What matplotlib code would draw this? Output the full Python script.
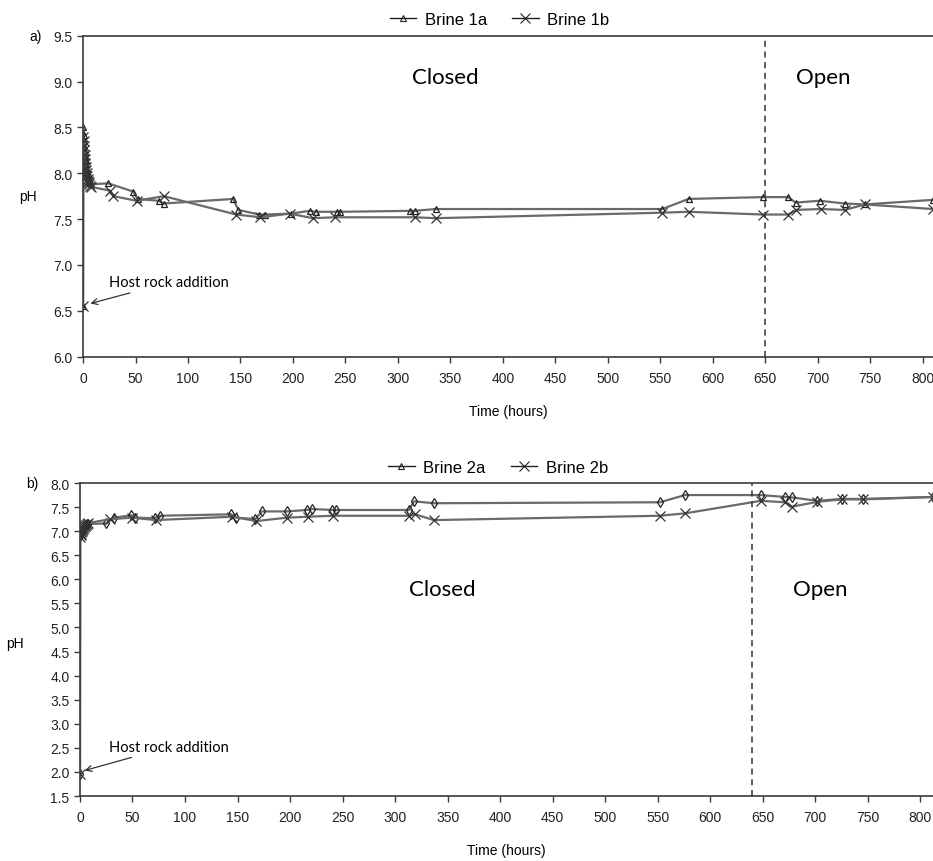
import matplotlib
matplotlib.use("Agg")
import matplotlib.pyplot as plt
from matplotlib.lines import Line2D

plt.rcParams['font.family'] = ['Liberation Sans', 'DejaVu Sans']

# ---- data, panel a ----
t_1a = [0, 0.2, 0.5, 0.8, 1.0, 1.3, 1.6, 2.0, 2.4, 2.8, 3.2, 3.6, 4.0, 4.5, 5.0, 5.5, 6.0, 7.0, 8.0,
        24, 48, 52, 72, 77, 143, 148, 168, 173, 198, 216, 222, 242, 245, 312, 316, 336,
        552, 577, 648, 672, 679, 702, 726, 745, 810]
ph_1a = [6.55, 8.50, 8.42, 8.35, 8.30, 8.26, 8.22, 8.18, 8.14, 8.10, 8.06, 8.03, 8.00, 7.97, 7.95, 7.93, 7.92, 7.90, 7.88,
         7.89, 7.80, 7.72, 7.70, 7.67, 7.72, 7.60, 7.55, 7.55, 7.56, 7.59, 7.58, 7.58, 7.58, 7.59, 7.59, 7.61,
         7.61, 7.72, 7.74, 7.74, 7.68, 7.70, 7.67, 7.66, 7.71]

t_1b = [0, 0.3, 0.6, 0.9, 1.2, 1.5, 1.8, 2.2, 2.6, 3.0, 3.4, 3.8, 4.3, 4.8, 5.3, 6.0, 7.0, 8.0,
        26, 29, 51, 77, 146, 169, 197, 219, 240, 316, 336,
        552, 577, 648, 672, 679, 703, 726, 745, 810]
ph_1b = [6.55, 8.40, 8.35, 8.30, 8.25, 8.20, 8.15, 8.11, 8.07, 8.03, 8.00, 7.97, 7.94, 7.92, 7.90, 7.88, 7.86, 7.85,
         7.81, 7.75, 7.70, 7.75, 7.55, 7.52, 7.56, 7.51, 7.52, 7.52, 7.51,
         7.57, 7.58, 7.55, 7.55, 7.60, 7.61, 7.60, 7.66, 7.61]

# ---- data, panel b ----
t_2a = [0, 0.2, 0.5, 0.8, 1.2, 1.6, 2.0, 2.5, 3.0, 3.5, 4.0, 5.0, 6.0, 7.0, 8.0,
        25, 32, 49, 52, 71, 76, 144, 149, 167, 173, 197, 216, 221, 240, 244, 313, 318, 337,
        552, 576, 648, 671, 678, 702, 725, 745, 812]
ph_2a = [1.95, 6.90, 6.92, 6.94, 6.96, 6.98, 7.00, 7.02, 7.04, 7.06, 7.08, 7.10, 7.12, 7.14, 7.15,
         7.16, 7.28, 7.33, 7.28, 7.27, 7.32, 7.35, 7.28, 7.25, 7.41, 7.41, 7.44, 7.46, 7.44, 7.44, 7.44, 7.62, 7.58,
         7.60, 7.75, 7.75, 7.71, 7.70, 7.63, 7.67, 7.67, 7.71]

t_2b = [0, 0.3, 0.6, 1.0, 1.4, 1.8, 2.2, 2.7, 3.2, 3.8, 4.5, 5.5, 6.5, 8.0,
        29, 50, 72, 145, 168, 197, 217, 241, 313, 319, 337,
        552, 576, 648, 671, 678, 702, 725, 745, 812]
ph_2b = [1.95, 6.88, 6.92, 6.95, 6.98, 7.00, 7.03, 7.05, 7.07, 7.09, 7.11, 7.13, 7.15, 7.17,
         7.25, 7.28, 7.23, 7.30, 7.21, 7.28, 7.30, 7.32, 7.32, 7.35, 7.23,
         7.32, 7.37, 7.63, 7.60, 7.51, 7.61, 7.66, 7.66, 7.71]

xticks = list(range(0, 801, 50))
yticks_a = [6.0, 6.5, 7.0, 7.5, 8.0, 8.5, 9.0, 9.5]
yticks_b = [1.5, 2.0, 2.5, 3.0, 3.5, 4.0, 4.5, 5.0, 5.5, 6.0, 6.5, 7.0, 7.5, 8.0]

line_col = '#6a6a6a'
note_font = ['Lato', 'DejaVu Sans']

fig = plt.figure(figsize=(9.33, 8.62), dpi=100)
ax1 = fig.add_axes([0.089, 0.585, 0.911, 0.3725])
ax2 = fig.add_axes([0.0857, 0.0754, 0.9143, 0.3631])


def style_axis(ax, yticks, xmax):
    ax.set_xlim(0, xmax)
    ax.set_ylim(yticks[0], yticks[-1])
    ax.set_xticks(xticks)
    ax.set_yticks(yticks)
    ax.set_yticklabels([f'{v:.1f}' for v in yticks])
    ax.spines['right'].set_visible(False)
    for s in ['left', 'bottom', 'top']:
        ax.spines[s].set_color('#3a3a3a')
        ax.spines[s].set_linewidth(1.2)
    ax.tick_params(direction='out', length=4, width=1, colors='#3a3a3a',
                   labelsize=10, labelcolor='#222222')
    ax.tick_params(axis='x', pad=6)
    ax.set_xlabel('Time (hours)', fontsize=10, labelpad=14)


# panel a
ax1.plot(t_1a, ph_1a, color=line_col, lw=1.6, marker='^', ms=4.5,
         mfc='none', mec='#222222', mew=0.9)
ax1.plot(t_1b, ph_1b, color=line_col, lw=1.6, marker='x', ms=7,
         mec='#333333', mew=0.9)
style_axis(ax1, yticks_a, 810)
ax1.axvline(650, color='#333333', ls=(0, (4, 3)), lw=1.1)
ax1.text(345, 9.05, 'Closed', fontsize=16, ha='center', va='center', family=note_font)
ax1.text(705, 9.05, 'Open', fontsize=16, ha='center', va='center', family=note_font)
ax1.annotate('Host rock addition', xy=(7, 6.58), xytext=(25, 6.81),
             fontsize=10.5, family=note_font, va='center',
             arrowprops=dict(arrowstyle='->', color='#333333', lw=0.9,
                             shrinkA=2, shrinkB=0))
ax1.set_ylabel('pH', fontsize=10, rotation=0, va='center', ha='center')
ax1.yaxis.set_label_coords(-0.065, 0.5)
fig.text(0.032, 0.957, 'a)', fontsize=10, va='center', ha='left')

# panel b
ax2.plot(t_2a, ph_2a, color=line_col, lw=1.6, marker='d', ms=5,
         mfc='none', mec='#222222', mew=0.9)
ax2.plot(t_2b, ph_2b, color=line_col, lw=1.6, marker='x', ms=7,
         mec='#333333', mew=0.9)
style_axis(ax2, yticks_b, 812)
ax2.axvline(640, color='#333333', ls=(0, (4, 3)), lw=1.1)
ax2.text(345, 5.8, 'Closed', fontsize=16, ha='center', va='center', family=note_font)
ax2.text(705, 5.8, 'Open', fontsize=16, ha='center', va='center', family=note_font)
ax2.annotate('Host rock addition', xy=(4.5, 2.03), xytext=(28, 2.52),
             fontsize=10.5, family=note_font, va='center',
             arrowprops=dict(arrowstyle='->', color='#333333', lw=0.9,
                             shrinkA=2, shrinkB=0))
ax2.set_ylabel('pH', fontsize=10, rotation=0, va='center', ha='center')
ax2.yaxis.set_label_coords(-0.076, 0.49)
fig.text(0.028, 0.438, 'b)', fontsize=10, va='center', ha='left')

# legends
for ax, names in [(ax1, ['Brine 1a', 'Brine 1b']), (ax2, ['Brine 2a', 'Brine 2b'])]:
    handles = [Line2D([], [], color='#222222', lw=1, marker='^', ms=4.5, mfc='none', mew=0.8),
               Line2D([], [], color='#222222', lw=1, marker='x', ms=7, mew=0.8)]
    ax.legend(handles, names, loc='lower center', bbox_to_anchor=(0.49, 1.0), ncol=2,
              frameon=False, fontsize=12, handlelength=1.6, handletextpad=0.5,
              columnspacing=1.5, borderaxespad=0.1)

plt.savefig('out.png', dpi=100)
